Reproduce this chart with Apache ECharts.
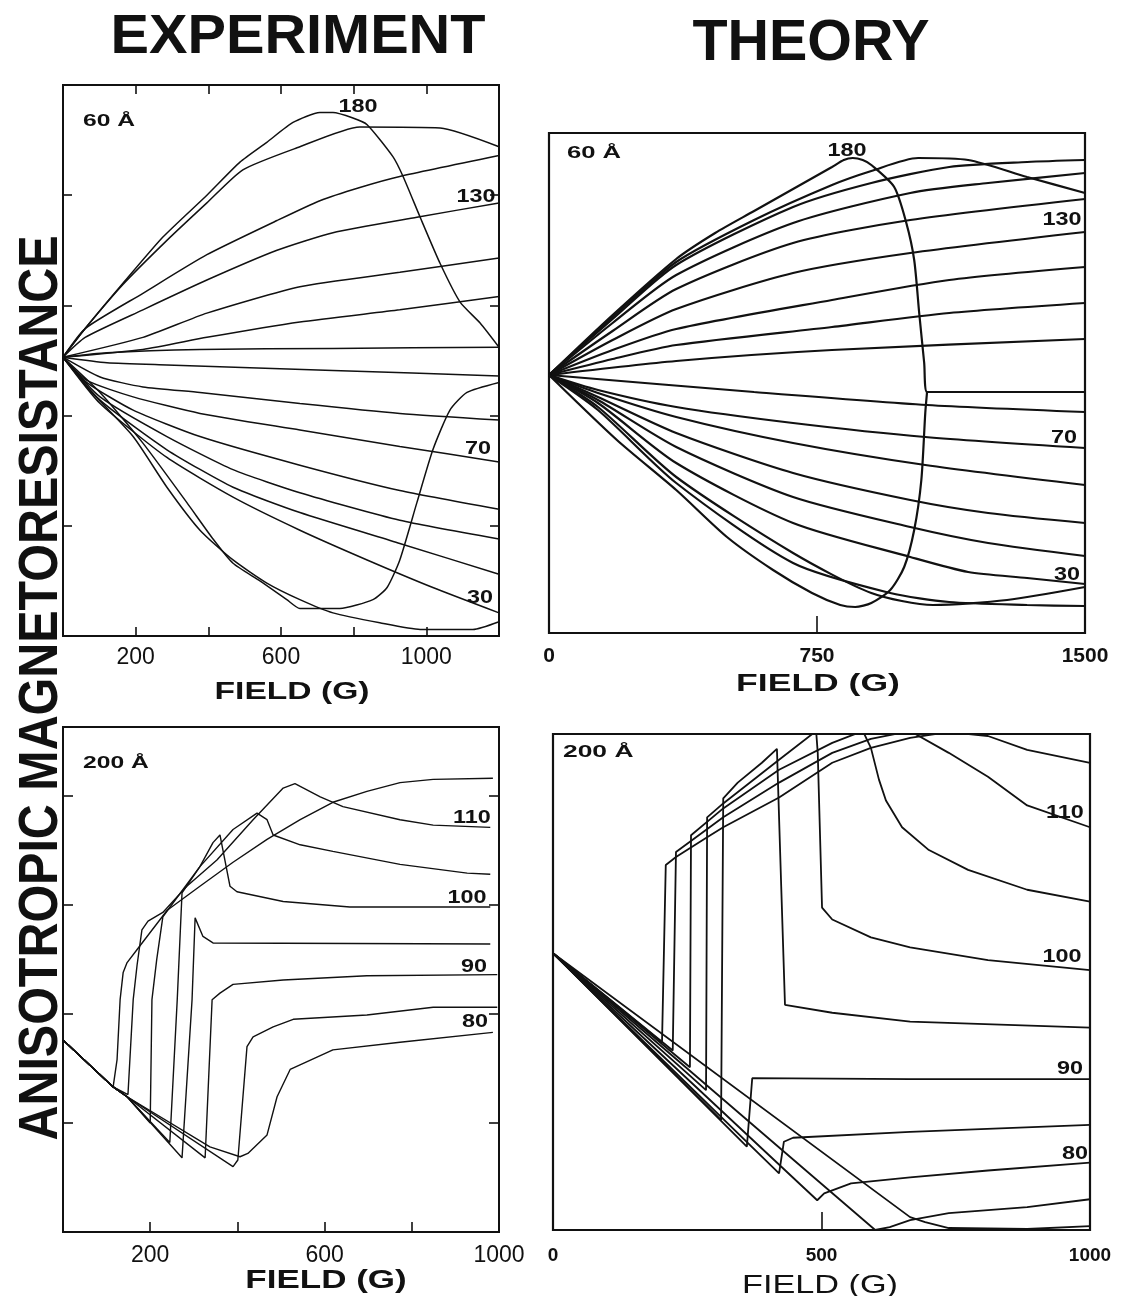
<!DOCTYPE html>
<html><head><meta charset="utf-8">
<script src="https://cdn.jsdelivr.net/npm/echarts@6/dist/echarts.min.js"></script>
<style>html,body{margin:0;padding:0;background:#fff}#c{width:1128px;height:1296px}</style>
</head><body><div id="c"></div>
<script>
// ---------- EXPERIMENT 60 A (field G, MR arb. units 0..5) ----------
const exp60_A = [[0,2.53],[61,2.79],[165,3.20],[275,3.62],[396,4.00],[487,4.30],[561,4.48],[633,4.66],[707,4.75],[743,4.75],[798,4.70],[837,4.64],[908,4.35],[936,4.17],[983,3.80],[1038,3.38],[1093,3.03],[1148,2.84],[1200,2.62]];
const exp60_B = [[0,2.53],[61,2.79],[165,3.19],[286,3.59],[396,3.93],[495,4.23],[644,4.43],[817,4.62],[1038,4.61],[1200,4.44]];
const exp60_C = [[0,2.53],[61,2.79],[220,3.11],[396,3.46],[589,3.77],[707,3.95],[817,4.07],[927,4.17],[1200,4.36]];
const exp60_D = [[0,2.53],[61,2.71],[220,2.96],[396,3.23],[589,3.50],[743,3.66],[974,3.80],[1200,3.93]];
const exp60_E = [[0,2.53],[220,2.71],[396,2.93],[652,3.17],[927,3.30],[1200,3.43]];
const exp60_F = [[0,2.53],[220,2.60],[396,2.71],[652,2.85],[927,2.96],[1200,3.08]];
const exp60_G = [[0,2.53],[121,2.57],[377,2.60],[743,2.61],[1200,2.62]];
const exp60_H = [[0,2.53],[121,2.48],[286,2.46],[743,2.41],[1200,2.36]];
const exp60_I = [[0,2.53],[102,2.35],[220,2.26],[377,2.21],[652,2.11],[927,2.02],[1200,1.96]];
const exp60_J = [[0,2.53],[66,2.32],[193,2.17],[377,2.02],[652,1.87],[927,1.72],[1200,1.58]];
const exp60_K = [[0,2.53],[66,2.30],[193,2.05],[377,1.81],[652,1.55],[927,1.32],[1200,1.15]];
const exp60_L = [[0,2.53],[102,2.17],[286,1.81],[468,1.51],[652,1.30],[927,1.05],[1200,0.88]];
const exp60_M = [[0,2.53],[102,2.14],[286,1.69],[468,1.35],[652,1.12],[927,0.84],[1200,0.56]];
const exp60_N = [[0,2.53],[102,2.11],[286,1.62],[468,1.26],[652,0.96],[837,0.69],[1018,0.44],[1200,0.21]];
const exp60_O = [[0,2.53],[74,2.23],[193,1.81],[286,1.35],[377,0.96],[468,0.69],[561,0.48],[652,0.33],[743,0.21],[872,0.12],[983,0.06],[1128,0.06],[1200,0.13]];
const exp60_P = [[0,2.53],[102,2.21],[220,1.75],[341,1.21],[413,0.88],[468,0.66],[542,0.50],[616,0.33],[652,0.25],[762,0.25],[853,0.33],[892,0.44],[927,0.69],[974,1.21],[1018,1.69],[1065,2.05],[1112,2.21],[1200,2.30]];
const exp60Curves = [exp60_A,exp60_B,exp60_C,exp60_D,exp60_E,exp60_F,exp60_G,exp60_H,exp60_I,exp60_J,exp60_K,exp60_L,exp60_M,exp60_N,exp60_O,exp60_P];

// ---------- THEORY 60 A ----------
const th60_T180 = [[0,2.58],[178,3.18],[356,3.74],[465,4.00],[574,4.22],[683,4.44],[792,4.66],[825,4.73],[850,4.75],[878,4.73],[902,4.68],[966,4.46],[1000,4.10],[1022,3.73],[1036,3.20],[1050,2.70],[1058,2.41],[1500,2.41]];
const th60_T170 = [[0,2.58],[178,3.16],[356,3.71],[574,4.13],[792,4.48],[902,4.62],[1033,4.75],[1173,4.73],[1338,4.56],[1500,4.40]];
const th60_V7 = [[0,2.58],[178,3.14],[356,3.68],[683,4.26],[902,4.50],[1120,4.66],[1338,4.71],[1500,4.73]];
const th60_V6 = [[0,2.58],[178,3.10],[356,3.58],[683,4.10],[1011,4.40],[1229,4.50],[1500,4.60]];
const th60_V5 = [[0,2.58],[178,3.02],[356,3.44],[683,3.90],[1011,4.13],[1500,4.34]];
const th60_V4 = [[0,2.58],[178,2.93],[356,3.24],[683,3.60],[1011,3.80],[1500,4.01]];
const th60_V3 = [[0,2.58],[178,2.83],[356,3.04],[792,3.33],[1120,3.53],[1500,3.66]];
const th60_V2 = [[0,2.58],[178,2.74],[356,2.88],[792,3.06],[1120,3.20],[1500,3.30]];
const th60_V1 = [[0,2.58],[356,2.72],[792,2.83],[1500,2.94]];
const th60_U1 = [[0,2.58],[574,2.41],[1058,2.28],[1500,2.21]];
const th60_U2 = [[0,2.58],[137,2.43],[356,2.26],[683,2.10],[1053,1.96],[1500,1.85]];
const th60_U3 = [[0,2.58],[137,2.40],[356,2.16],[683,1.90],[1053,1.68],[1500,1.48]];
const th60_U4 = [[0,2.58],[137,2.36],[356,2.00],[683,1.60],[1011,1.33],[1229,1.20],[1500,1.10]];
const th60_U5 = [[0,2.58],[137,2.33],[356,1.86],[683,1.36],[1011,1.06],[1229,0.90],[1500,0.77]];
const th60_U6 = [[0,2.58],[137,2.30],[356,1.70],[683,1.10],[1011,0.76],[1173,0.61],[1338,0.55],[1500,0.49]];
const th60_U7 = [[0,2.58],[137,2.26],[356,1.56],[683,0.80],[902,0.40],[1075,0.28],[1282,0.33],[1500,0.46]];
const th60_U8 = [[0,2.58],[137,2.23],[356,1.50],[683,0.70],[955,0.40],[1120,0.31],[1338,0.28],[1500,0.27]];
const th60_T0 = [[0,2.58],[190,1.93],[356,1.43],[498,0.96],[627,0.63],[736,0.40],[815,0.28],[857,0.26],[902,0.30],[955,0.43],[994,0.66],[1022,1.03],[1042,1.53],[1053,2.20],[1058,2.41]];
const th60Curves = [th60_T180,th60_T170,th60_V7,th60_V6,th60_V5,th60_V4,th60_V3,th60_V2,th60_V1,th60_U1,th60_U2,th60_U3,th60_U4,th60_U5,th60_U6,th60_U7,th60_U8,th60_T0];

// ---------- EXPERIMENT 200 A ----------
const exp200_C1 = [[0,1.76],[115,1.33],[124,1.58],[131,2.13],[138,2.38],[147,2.47],[170,2.59],[239,2.95],[314,3.17],[390,3.39],[468,3.60],[544,3.78],[619,3.94],[697,4.04],[773,4.12],[849,4.15],[986,4.16]];
const exp200_C2 = [[0,1.76],[115,1.33],[149,1.26],[161,2.13],[170,2.45],[181,2.77],[195,2.85],[229,2.93],[284,3.17],[353,3.41],[436,3.78],[505,4.07],[532,4.11],[590,3.99],[642,3.90],[773,3.78],[849,3.73],[980,3.71]];
const exp200_C3 = [[0,1.76],[115,1.33],[147,1.24],[200,1.00],[204,2.13],[215,2.50],[229,2.89],[314,3.35],[390,3.69],[445,3.84],[468,3.78],[482,3.64],[544,3.55],[619,3.49],[773,3.37],[927,3.29],[980,3.28]];
const exp200_C4 = [[0,1.76],[115,1.33],[147,1.24],[245,0.82],[262,2.13],[273,3.11],[314,3.35],[344,3.57],[360,3.64],[383,3.17],[399,3.12],[505,3.03],[658,2.98],[980,2.98]];
const exp200_C5 = [[0,1.76],[115,1.33],[147,1.24],[273,0.68],[296,2.13],[303,2.88],[321,2.71],[344,2.65],[980,2.64]];
const exp200_C6 = [[0,1.76],[115,1.33],[147,1.24],[326,0.68],[342,2.13],[360,2.19],[390,2.27],[505,2.31],[697,2.35],[996,2.36]];
const exp200_C7 = [[0,1.76],[115,1.33],[147,1.24],[390,0.60],[401,0.66],[422,1.70],[436,1.79],[482,1.88],[528,1.95],[697,1.99],[849,2.06],[996,2.06]];
const exp200_C8 = [[0,1.76],[115,1.33],[147,1.24],[337,0.78],[406,0.69],[424,0.72],[468,0.89],[491,1.24],[521,1.49],[619,1.67],[773,1.74],[986,1.83]];
const exp200Curves = [exp200_C1,exp200_C2,exp200_C3,exp200_C4,exp200_C5,exp200_C6,exp200_C7,exp200_C8];

// ---------- THEORY 200 A ----------
const th200_1 = [[0,2.79],[203,1.89],[210,3.68],[229,3.76],[287,3.96],[317,4.06],[421,4.36],[520,4.71],[592,4.86],[665,4.96],[737,5.02],[810,4.98],[883,4.84],[1000,4.71]];
const th200_2 = [[0,2.79],[223,1.81],[229,3.81],[317,4.16],[421,4.51],[520,4.81],[592,4.95],[665,5.03],[737,4.81],[810,4.57],[883,4.28],[1000,4.06]];
const th200_3 = [[0,2.79],[255,1.64],[257,3.98],[317,4.25],[421,4.64],[520,4.91],[577,5.03],[592,4.86],[607,4.54],[620,4.33],[650,4.06],[700,3.83],[773,3.63],[883,3.43],[1000,3.31]];
const th200_4 = [[0,2.79],[285,1.41],[287,4.16],[317,4.30],[421,4.74],[490,5.03],[493,4.81],[501,3.25],[520,3.13],[592,2.95],[665,2.85],[810,2.72],[1000,2.62]];
const th200_5 = [[0,2.79],[313,1.11],[317,4.35],[344,4.51],[389,4.71],[417,4.85],[425,3.46],[432,2.27],[520,2.19],[665,2.10],[1000,2.04]];
const th200_6 = [[0,2.79],[361,0.84],[371,1.53],[665,1.52],[1000,1.52]];
const th200_7 = [[0,2.79],[421,0.57],[430,0.89],[447,0.93],[665,0.99],[1000,1.06]];
const th200_8 = [[0,2.79],[492,0.30],[505,0.37],[520,0.40],[555,0.47],[665,0.53],[810,0.60],[1000,0.68]];
const th200_9 = [[0,2.79],[600,0],[627,0.03],[665,0.10],[737,0.17],[883,0.23],[1000,0.31]];
const th200_10 = [[0,2.79],[665,0.13],[693,0.08],[737,0.02],[883,0.01],[1000,0.04]];
const th200Curves = [th200_1,th200_2,th200_3,th200_4,th200_5,th200_6,th200_7,th200_8,th200_9,th200_10];

// ---------- tick labels / text ----------
const expTickLabels = [200, 600, 1000];
const th60TickLabels = [0, 750, 1500];
const th200TickLabels = [0, 500, 1000];
const exp60CurveLabels = ['180','130','70','30'];
const th60CurveLabels = ['180','130','70','30'];
const exp200CurveLabels = ['110','100','90','80'];
const th200CurveLabels = ['110','100','90','80'];

const FF = '"Liberation Sans", Arial, Helvetica, sans-serif';
const chart = echarts.init(document.getElementById('c'), null, {renderer:'canvas'});

function line(data, xi, yi, w, smooth){
  return {type:'line', xAxisIndex:xi, yAxisIndex:yi, data:data, showSymbol:false, symbol:'none',
    smooth:smooth, lineStyle:{color:'#111', width:w}, silent:true, animation:false, clip:true, z:3};
}
const series = [];
exp60Curves.forEach(d => series.push(line(d,0,0,1.5,0.2)));
th60Curves.forEach(d => series.push(line(d,2,2,2.2,0.25)));
exp200Curves.forEach(d => series.push(line(d,3,3,1.4,0)));
th200Curves.forEach(d => series.push(line(d,4,5,1.8,0)));

function xAx(grid, max, interval, pos, tickLen, labelCfg){
  return {type:'value', gridIndex:grid, min:0, max:max, interval:interval, position:pos,
    axisLine:{show:false, onZero:false}, splitLine:{show:false},
    axisTick:{show:tickLen>0, inside:true, length:tickLen, lineStyle:{color:'#111', width:1.6}},
    axisLabel: labelCfg || {show:false}};
}
function yAx(grid, max, interval, pos, tickLen){
  return {type:'value', gridIndex:grid, min:0, max:max, interval:interval, position:pos,
    axisLine:{show:false, onZero:false}, splitLine:{show:false},
    axisTick:{show:tickLen>0, inside:true, length:tickLen, lineStyle:{color:'#111', width:1.6}},
    axisLabel:{show:false}};
}
const expLbl = (margin) => ({show:true, margin:margin, color:'#111', fontFamily:FF, fontSize:23,
  formatter: v => expTickLabels.includes(v) ? String(v) : ''});

const option = {
  backgroundColor:'#fff',
  animation:false,
  grid:[
    {left:63, top:85, width:436, height:551, show:true, borderColor:'#111', borderWidth:2, backgroundColor:'transparent'},
    {left:549, top:133, width:536, height:500, show:true, borderColor:'#111', borderWidth:2.2, backgroundColor:'transparent'},
    {left:63, top:727, width:436, height:505, show:true, borderColor:'#111', borderWidth:2, backgroundColor:'transparent'},
    {left:553, top:734, width:537, height:496, show:true, borderColor:'#111', borderWidth:2.2, backgroundColor:'transparent'}
  ],
  xAxis:[
    xAx(0,1200,200,'bottom',9, expLbl(10)),
    xAx(0,1200,200,'top',9, null),
    xAx(1,1500,750,'bottom',17, {show:true, margin:13, color:'#111', fontFamily:FF, fontWeight:'bold', fontSize:21,
        formatter: v => th60TickLabels.includes(v) ? String(v) : ''}),
    xAx(2,1000,200,'bottom',10, expLbl(12)),
    xAx(3,1000,500,'bottom',18, {show:true, margin:16, color:'#111', fontFamily:FF, fontWeight:'bold', fontSize:19,
        formatter: v => th200TickLabels.includes(v) ? String(v) : ''})
  ],
  yAxis:[
    yAx(0,5,1,'left',9),
    yAx(0,5,1,'right',9),
    yAx(1,5,1,'left',0),
    yAx(2,4.63,1,'left',10),
    yAx(2,4.63,1,'right',10),
    yAx(3,5,1,'left',0)
  ],
  series: series,
  graphic: []
};

function txt(text, x, y, font, opts){
  opts = opts || {};
  return {type:'text', x:x, y:y, rotation:opts.rot||0, scaleX:opts.sx||1, scaleY:opts.sy||1, silent:true, z:10,
    style:{text:text, font:font, fill:'#111', align:opts.align||'center', verticalAlign:'middle',
      textAlign:opts.align||'center', textVerticalAlign:'middle'}};
}
const G = option.graphic;
G.push(txt('EXPERIMENT', 298, 38, 'bold 56px '+FF, {sx:1.03}));
G.push(txt('THEORY', 811, 44, 'bold 58px '+FF, {sx:0.99}));
G.push(txt('ANISOTROPIC MAGNETORESISTANCE', 42, 688, 'bold 56px '+FF, {rot:Math.PI/2, sx:0.865}));
G.push(txt('FIELD (G)', 292, 692, 'bold 24px '+FF, {sx:1.4}));
G.push(txt('FIELD (G)', 818, 684, 'bold 24px '+FF, {sx:1.48}));
G.push(txt('FIELD (G)', 326, 1281, 'bold 25px '+FF, {sx:1.4}));
G.push(txt('FIELD (G)', 820, 1286, '25px '+FF, {sx:1.37}));
G.push(txt('60 Å', 83, 121, 'bold 17px '+FF, {align:'left', sx:1.45}));
G.push(txt('60 Å', 567, 154, 'bold 16px '+FF, {align:'left', sx:1.6}));
G.push(txt('200 Å', 83, 763, 'bold 17px '+FF, {align:'left', sx:1.45}));
G.push(txt('200 Å', 563, 753, 'bold 16px '+FF, {align:'left', sx:1.65}));
const lblFont = 'bold 18px '+FF;
const exp60Pos = [[358,107],[476,197],[478,449],[480,598]];
const th60Pos = [[847,151],[1062,220],[1064,438],[1067,575]];
const exp200Pos = [[472,818],[467,898],[474,967],[475,1022]];
const th200Pos = [[1065,813],[1062,957],[1070,1069],[1075,1154]];
exp60CurveLabels.forEach((t,i)=>G.push(txt(t, exp60Pos[i][0], exp60Pos[i][1], lblFont, {sx:1.3})));
th60CurveLabels.forEach((t,i)=>G.push(txt(t, th60Pos[i][0], th60Pos[i][1], lblFont, {sx:1.3})));
exp200CurveLabels.forEach((t,i)=>G.push(txt(t, exp200Pos[i][0], exp200Pos[i][1], lblFont, {sx:1.3})));
th200CurveLabels.forEach((t,i)=>G.push(txt(t, th200Pos[i][0], th200Pos[i][1], lblFont, {sx:1.3})));

chart.setOption(option);
</script></body></html>
